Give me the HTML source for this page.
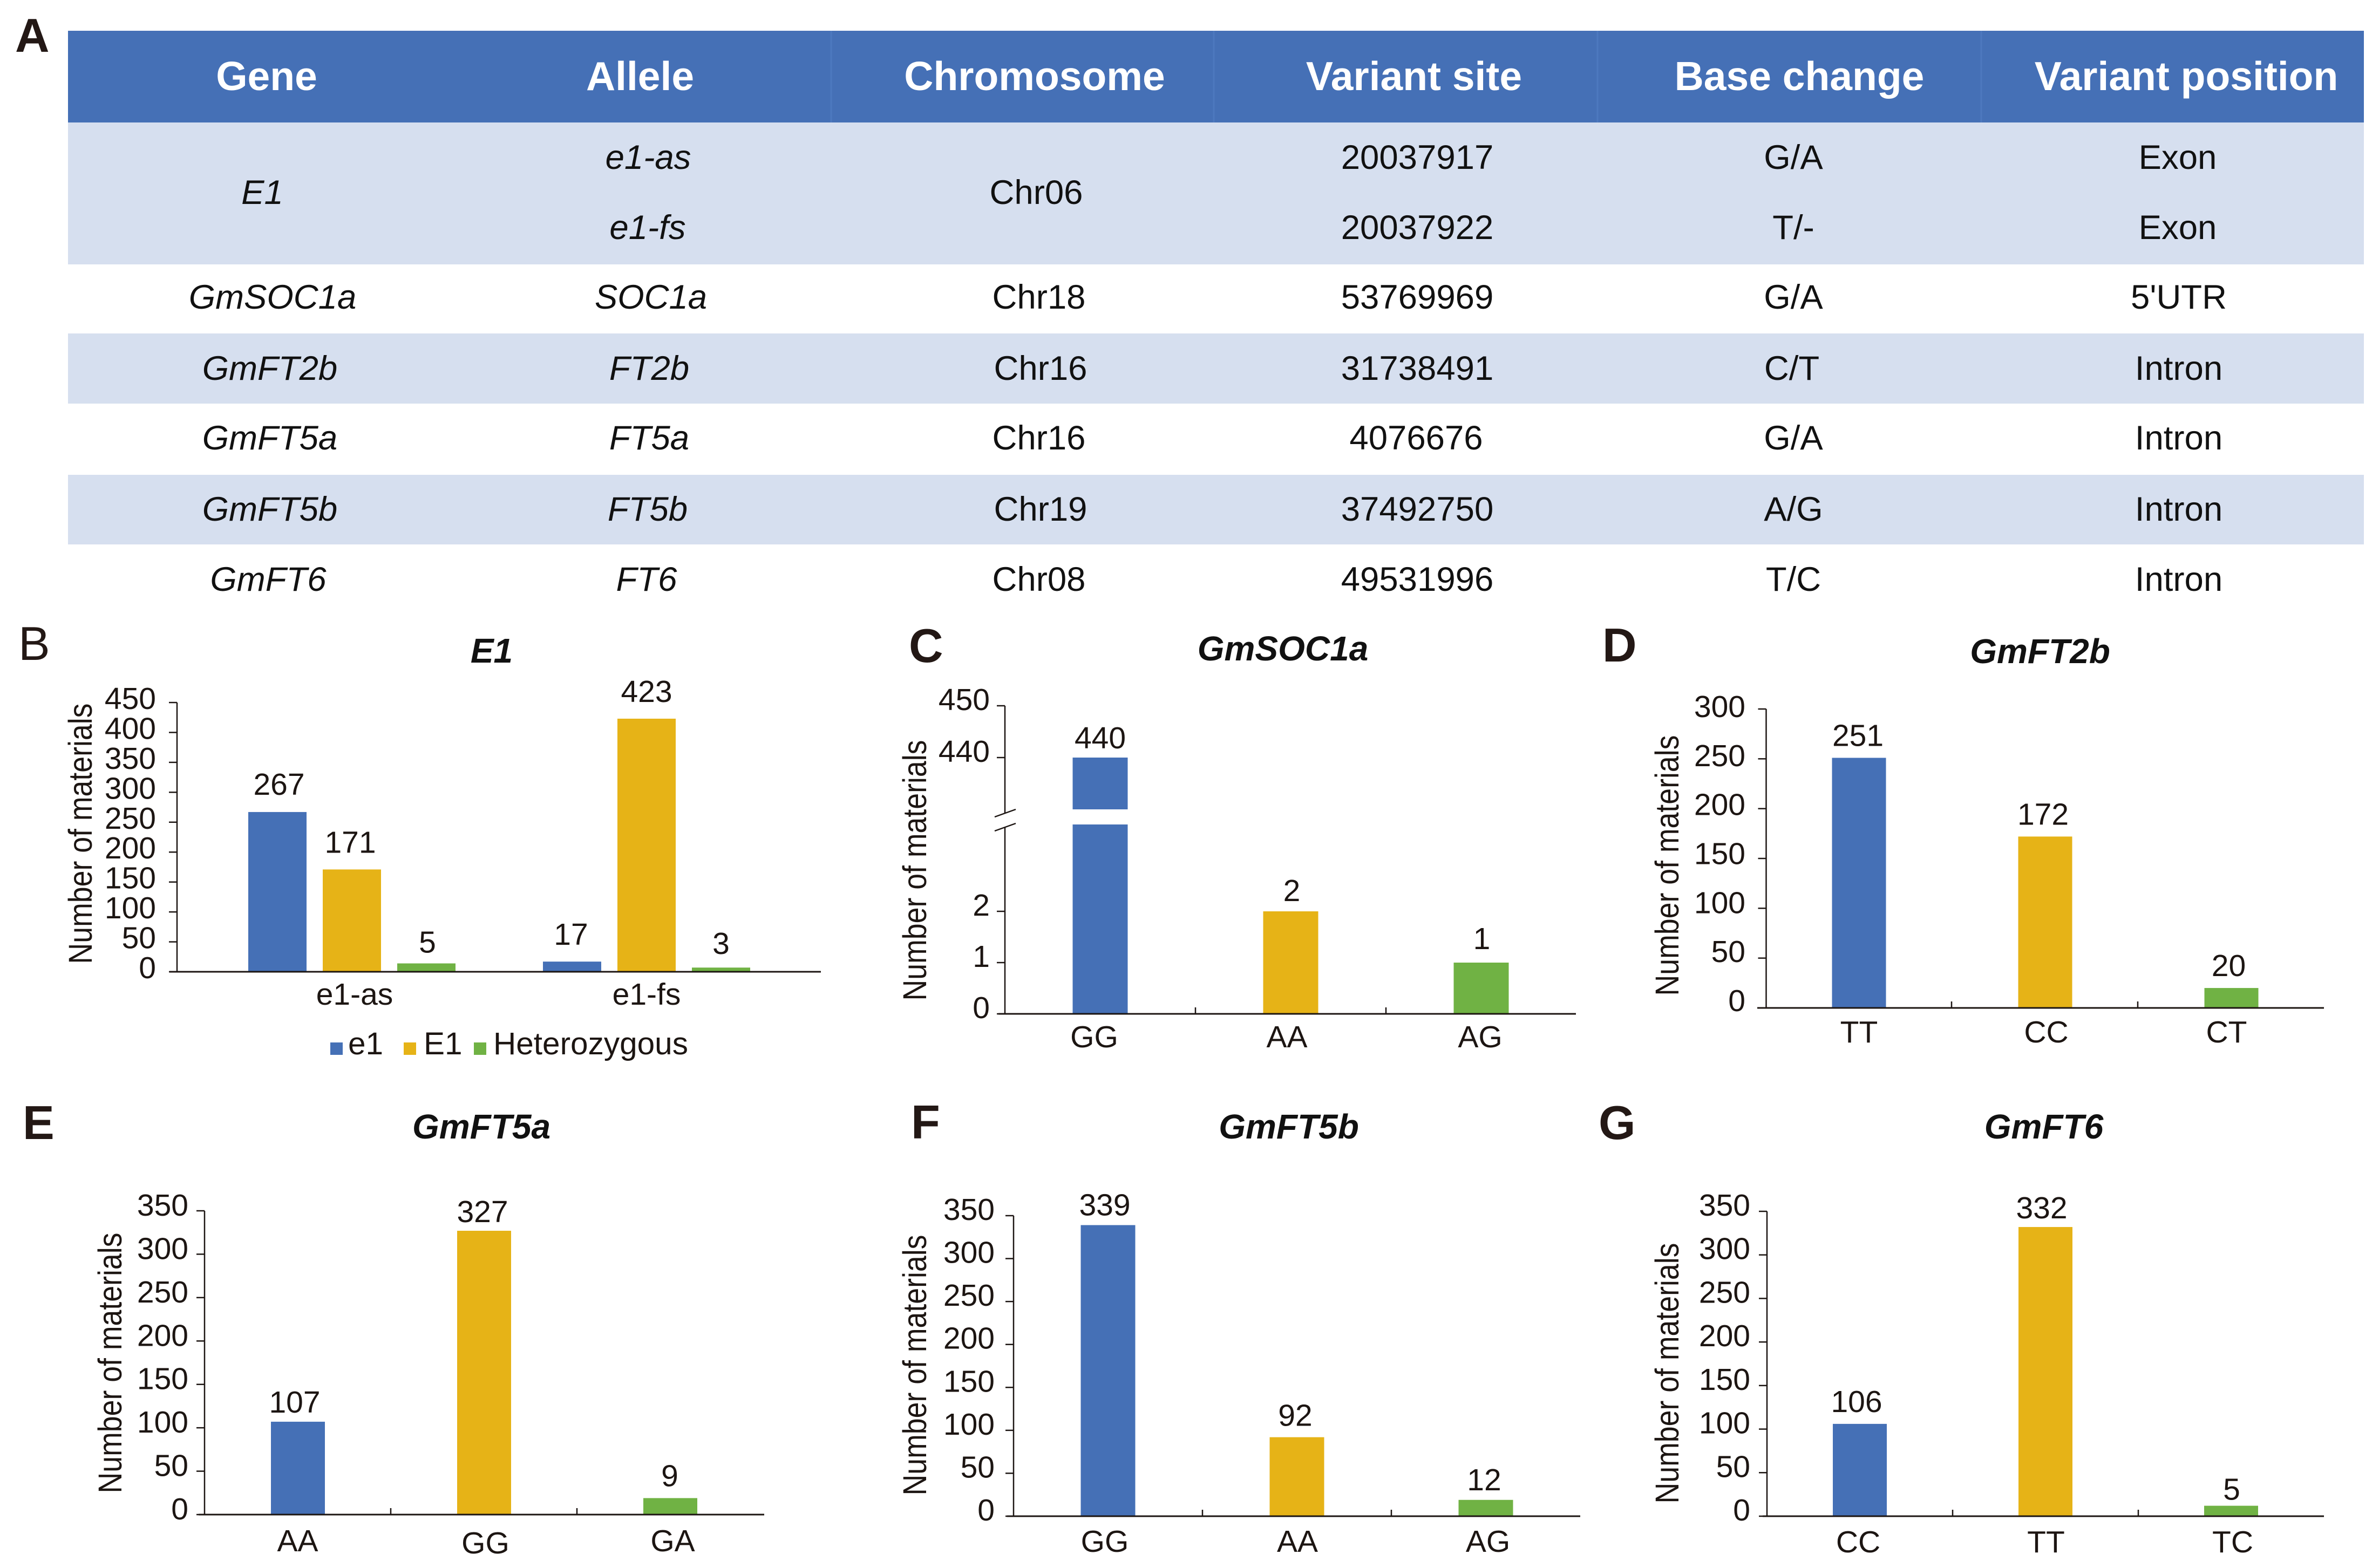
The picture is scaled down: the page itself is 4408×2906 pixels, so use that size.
<!DOCTYPE html>
<html lang="en">
<head>
<meta charset="utf-8">
<title>Allele variants and genotype counts</title>
<style>
html,body{margin:0;padding:0;background:#fff;}
svg{display:block;font-family:"Liberation Sans",Arial,sans-serif;}
.p{font-size:88px;fill:#231815;font-weight:bold;}
.h{font-size:75px;font-weight:bold;fill:#fff;text-anchor:middle;}
.c{font-size:63.5px;fill:#111;text-anchor:middle;}
.i{font-style:italic;}
.t{font-size:64px;font-weight:bold;font-style:italic;fill:#111;text-anchor:middle;}
</style>
</head>
<body>
<svg id="fig" xmlns="http://www.w3.org/2000/svg" width="4408" height="2906" viewBox="0 0 4408 2906">
<rect x="0" y="0" width="4408" height="2906" fill="#fff"/>

<g>
<rect x="126" y="57" width="4254" height="170" fill="#4570b6"/>
<rect x="126" y="227" width="4254" height="263" fill="#d6dfef"/>
<rect x="126" y="618" width="4254" height="130" fill="#d6dfef"/>
<rect x="126" y="880" width="4254" height="129" fill="#d6dfef"/>
<g stroke="#4d79bf" stroke-width="3">
<line x1="1540" y1="57" x2="1540" y2="227"/>
<line x1="2249" y1="57" x2="2249" y2="227"/>
<line x1="2960" y1="57" x2="2960" y2="227"/>
<line x1="3671" y1="57" x2="3671" y2="227"/>
</g>
<text class="h" x="494" y="167">Gene</text>
<text class="h" x="1186" y="167">Allele</text>
<text class="h" x="1917" y="167">Chromosome</text>
<text class="h" x="2620" y="167">Variant site</text>
<text class="h" x="3334" y="167">Base change</text>
<text class="h" x="4051" y="167">Variant position</text>

<text class="c i" x="486" y="378">E1</text>
<text class="c i" x="1201" y="313">e1-as</text>
<text class="c i" x="1200" y="443">e1-fs</text>
<text class="c" x="1920" y="378">Chr06</text>
<text class="c" x="2626" y="313">20037917</text>
<text class="c" x="2626" y="443">20037922</text>
<text class="c" x="3323" y="313">G/A</text>
<text class="c" x="3323" y="443">T/-</text>
<text class="c" x="4035" y="313">Exon</text>
<text class="c" x="4035" y="443">Exon</text>

<text class="c i" x="505" y="572">GmSOC1a</text>
<text class="c i" x="1206" y="572">SOC1a</text>
<text class="c" x="1925" y="572">Chr18</text>
<text class="c" x="2626" y="572">53769969</text>
<text class="c" x="3323" y="572">G/A</text>
<text class="c" x="4037" y="572">5'UTR</text>

<text class="c i" x="500" y="704">GmFT2b</text>
<text class="c i" x="1203" y="704">FT2b</text>
<text class="c" x="1928" y="704">Chr16</text>
<text class="c" x="2626" y="704">31738491</text>
<text class="c" x="3320" y="704">C/T</text>
<text class="c" x="4037" y="704">Intron</text>

<text class="c i" x="500" y="833">GmFT5a</text>
<text class="c i" x="1203" y="833">FT5a</text>
<text class="c" x="1925" y="833">Chr16</text>
<text class="c" x="2624" y="833">4076676</text>
<text class="c" x="3323" y="833">G/A</text>
<text class="c" x="4037" y="833">Intron</text>

<text class="c i" x="500" y="965">GmFT5b</text>
<text class="c i" x="1200" y="965">FT5b</text>
<text class="c" x="1928" y="965">Chr19</text>
<text class="c" x="2626" y="965">37492750</text>
<text class="c" x="3323" y="965">A/G</text>
<text class="c" x="4037" y="965">Intron</text>

<text class="c i" x="497" y="1095">GmFT6</text>
<text class="c i" x="1198" y="1095">FT6</text>
<text class="c" x="1925" y="1095">Chr08</text>
<text class="c" x="2626" y="1095">49531996</text>
<text class="c" x="3323" y="1095">T/C</text>
<text class="c" x="4037" y="1095">Intron</text>
</g>

<text class="p" x="28" y="96">A</text>
<text class="p" x="34" y="1223" style="font-weight:normal">B</text>
<text class="p" x="1684" y="1227">C</text>
<text class="p" x="2969" y="1226">D</text>
<text class="p" x="42" y="2111">E</text>
<text class="p" x="1688" y="2110">F</text>
<text class="p" x="2962" y="2111">G</text>

<text class="t" x="911" y="1228">E1</text>
<text class="t" x="2377" y="1224">GmSOC1a</text>
<text class="t" x="3780" y="1229">GmFT2b</text>
<text class="t" x="892" y="2110">GmFT5a</text>
<text class="t" x="2388" y="2110">GmFT5b</text>
<text class="t" x="3787" y="2110">GmFT6</text>

<g id="charts"></g>
</svg>

<script>
/* ---------- chart data ---------- */
const e1Categories = ['e1-as', 'e1-fs'];
const e1Series = ['e1', 'E1', 'Heterozygous'];
const e1SeriesValues = [[267, 17], [171, 423], [14, 7]];
const e1Printed = [['267', '17'], ['171', '423'], ['5', '3']];
const e1Ticks = [0, 50, 100, 150, 200, 250, 300, 350, 400, 450];

const soc1aCategories = ['GG', 'AA', 'AG'];
const soc1aValues = [440, 2, 1];
const soc1aPrinted = ['440', '2', '1'];
const soc1aTicks = [0, 1, 2, 440, 450];

const ft2bCategories = ['TT', 'CC', 'CT'];
const ft2bValues = [251, 172, 20];
const ft2bPrinted = ['251', '172', '20'];
const ft2bTicks = [0, 50, 100, 150, 200, 250, 300];

const ft5aCategories = ['AA', 'GG', 'GA'];
const ft5aValues = [107, 327, 19];
const ft5aPrinted = ['107', '327', '9'];
const ft5aTicks = [0, 50, 100, 150, 200, 250, 300, 350];

const ft5bCategories = ['GG', 'AA', 'AG'];
const ft5bValues = [339, 92, 19];
const ft5bPrinted = ['339', '92', '12'];
const ft5bTicks = [0, 50, 100, 150, 200, 250, 300, 350];

const ft6Categories = ['CC', 'TT', 'TC'];
const ft6Values = [106, 332, 12];
const ft6Printed = ['106', '332', '5'];
const ft6Ticks = [0, 50, 100, 150, 200, 250, 300, 350];

const axisTitleText = 'Number of materials';

/* ---------- drawing ---------- */
const BLUE = '#4570b6', GOLD = '#e6b317', GREEN = '#70b244', INK = '#1c1512';
const COLORS = [BLUE, GOLD, GREEN];
const root = document.getElementById('charts');
const NS = 'http://www.w3.org/2000/svg';

function make(tag, attrs, parent) {
  const el = document.createElementNS(NS, tag);
  for (const k in attrs) el.setAttribute(k, attrs[k]);
  parent.appendChild(el);
  return el;
}

function linearY(L) {
  const unit = (L.base - L.top) / L.max;
  return v => L.base - v * unit;
}

function brokenY(L) {
  return v => v > L.upperMin
    ? L.upperBottomY - (v - L.upperMin) * L.upperUnit
    : L.base - v * L.lowerUnit;
}

function drawAxes(g, L, ticks, categories, y) {
  const axis = make('line', {x1: L.lineStart, x2: L.lineEnd, y1: L.base, y2: L.base, stroke: INK, 'stroke-width': 3}, g);
  
  
  const topValue = ticks[ticks.length - 1];
  const segments = L.broken ? [[y(topValue), L.upperAxisEnd], [L.lowerAxisStart, L.base]] : [[y(topValue), L.base]];
  segments.forEach(s => {
    const seg = make('line', {x1: L.x0, x2: L.x0, y1: s[0], y2: s[1], stroke: INK, 'stroke-width': 2.5}, g);
    
    
  });
  if (L.broken) {
    [L.upperAxisEnd, L.lowerAxisStart].forEach(b => {
      const slash = make('line', {x1: L.x0 - 19, x2: L.x0 + 20, y1: b + 7, y2: b - 7, stroke: INK, 'stroke-width': 2.5}, g);
      
      
    });
  }
  ticks.forEach(t => {
    const ty = y(t);
    const drift = L.tickDyTop === undefined ? 0 : (L.tickDyTop - L.tickDy) * (t / topValue);
    const tick = make('line', {x1: L.x0 - 15, x2: L.x0, y1: ty, y2: ty, stroke: INK, 'stroke-width': 2.5}, g);
    
    
    const lab = make('text', {x: L.tickRight, y: ty + L.tickDy + drift, 'text-anchor': 'end', 'font-size': 57, fill: INK}, g);
    lab.textContent = t;
    
    
  });
  if (L.catTicks) {
    for (let k = 1; k < categories.length; k++) {
      const cx = L.catStart + L.step * k;
      const ct = make('line', {x1: cx, x2: cx, y1: L.base - 12, y2: L.base, stroke: INK, 'stroke-width': 2.5}, g);
      
      
    }
  }
  categories.forEach((c, i) => {
    const lab = make('text', {x: L.catStart + L.step * (i + 0.5) + L.catDx[i], y: L.catY + L.catDy[i], 'text-anchor': 'middle', 'font-size': 57, fill: INK}, g);
    lab.textContent = c;
    
    
  });
  const title = make('text', {
    transform: 'translate(' + L.titleX + ',' + L.titleY + ') rotate(-90)',
    'text-anchor': 'middle', 'font-size': 61, textLength: 483, lengthAdjust: 'spacingAndGlyphs', fill: INK
  }, g);
  title.textContent = axisTitleText;
  
  
}

function drawBar(g, L, y, cx, w, v, color) {
  if (L.broken && v > L.upperMin) {
    const lower = make('rect', {x: cx - w / 2, y: L.lowerTopY, width: w, height: L.base - L.lowerTopY, fill: color}, g);
    
    
    const upper = make('rect', {x: cx - w / 2, y: y(v), width: w, height: L.upperBottomY - y(v), fill: color}, g);
    
    
  } else {
    const bar = make('rect', {x: cx - w / 2, y: y(v), width: w, height: L.base - y(v), fill: color}, g);
    
    
  }
}

function drawValueLabel(g, x, yPos, text) {
  const lab = make('text', {x: x, y: yPos, 'text-anchor': 'middle', 'font-size': 57, fill: INK}, g);
  lab.textContent = text;
  
  
}

function singleSeries(name, categories, values, printed, ticks, L) {
  const g = make('g', {}, root);
  
  
  const y = L.broken ? brokenY(L) : linearY(L);
  values.forEach((v, i) => {
    const cx = L.catStart + L.step * (i + 0.5) + L.barDx;
    drawBar(g, L, y, cx, L.barW, v, COLORS[i]);
    drawValueLabel(g, cx + L.labelDx[i], y(v) - L.labelGap[i], printed[i]);
  });
  drawAxes(g, L, ticks, categories, y);
}

function groupedChart(name, categories, seriesNames, seriesValues, printed, ticks, L) {
  const g = make('g', {}, root);
  
  
  const y = linearY(L);
  seriesValues.forEach((vals, j) => {
    vals.forEach((v, i) => {
      const cx = L.catStart + L.step * (i + 0.5) + (j - (seriesValues.length - 1) / 2) * L.barStep;
      drawBar(g, L, y, cx, L.barW, v, COLORS[j]);
      drawValueLabel(g, cx + L.labelDx[j][i], y(v) - L.labelGap[j][i], printed[j][i]);
    });
  });
  drawAxes(g, L, ticks, categories, y);
  seriesNames.forEach((s, j) => {
    const sw = make('rect', {x: L.legendSwatchX[j], y: L.legendY - 22, width: 23, height: 23, fill: COLORS[j]}, g);
    
    
    const t = make('text', {x: L.legendTextX[j], y: L.legendY, 'font-size': 58.5, fill: INK}, g);
    t.textContent = s;
    
    
  });
}

groupedChart('chart-e1', e1Categories, e1Series, e1SeriesValues, e1Printed, e1Ticks, {
  x0: 328, base: 1801, top: 1302, max: 450, lineStart: 314, lineEnd: 1521,
  catStart: 379, step: 546, barW: 108, barStep: 138, tickRight: 289, tickDy: 12,
  catTicks: false, catDx: [5, 0], catDy: [0, 0], catY: 1862,
  labelDx: [[3, -2], [-3, 0], [2, 0]], labelGap: [[32, 31], [31, 31], [20, 25]],
  titleX: 170, titleY: 1545,
  legendY: 1954, legendSwatchX: [612, 748, 878], legendTextX: [645, 785, 914]
});

singleSeries('chart-gmsoc1a', soc1aCategories, soc1aValues, soc1aPrinted, soc1aTicks, {
  broken: true, x0: 1862, base: 1879, lowerUnit: 95, lowerTopY: 1528, lowerAxisStart: 1533,
  upperMin: 430, upperBottomY: 1500, upperUnit: 9.6, upperAxisEnd: 1507,
  lineStart: 1850, lineEnd: 2920, catStart: 1862, step: 353, barW: 102, barDx: 0,
  tickRight: 1834, tickDy: 8, catTicks: true, catDx: [-11, -7, -2], catDy: [0, 0, 0], catY: 1941,
  labelDx: [0, 2, 1], labelGap: [17, 19, 25], titleX: 1716, titleY: 1613
});

singleSeries('chart-gmft2b', ft2bCategories, ft2bValues, ft2bPrinted, ft2bTicks, {
  x0: 3272.5, base: 1868, top: 1314, max: 300, lineStart: 3256, lineEnd: 4306,
  catStart: 3271, step: 345, barW: 100, barDx: 1,
  tickRight: 3234, tickDy: 6, tickDyTop: 15, catTicks: true, catDx: [1, 3, -8], catDy: [0, 0, 0], catY: 1932,
  labelDx: [-2, -4, -5], labelGap: [22, 22, 22], titleX: 3110, titleY: 1604
});

singleSeries('chart-gmft5a', ft5aCategories, ft5aValues, ft5aPrinted, ft5aTicks, {
  x0: 379, base: 2807, top: 2244, max: 350, lineStart: 368, lineEnd: 1416,
  catStart: 379, step: 345, barW: 100, barDx: 0.5,
  tickRight: 349, tickDy: 9, catTicks: true, catDx: [0, 3, 5], catDy: [0, 4, 0], catY: 2875,
  labelDx: [-6, -3, -1], labelGap: [17, 16, 22], titleX: 225, titleY: 2526
});

singleSeries('chart-gmft5b', ft5bCategories, ft5bValues, ft5bPrinted, ft5bTicks, {
  x0: 1878, base: 2810, top: 2253, max: 350, lineStart: 1866, lineEnd: 2928,
  catStart: 1878, step: 350, barW: 101, barDx: 0,
  tickRight: 1843, tickDy: 8, catTicks: true, catDx: [-6, 1, 4], catDy: [0, 0, 0], catY: 2876,
  labelDx: [-6, -3, -3], labelGap: [18, 21, 18], titleX: 1716, titleY: 2530
});

singleSeries('chart-gmft6', ft6Categories, ft6Values, ft6Printed, ft6Ticks, {
  x0: 3274, base: 2810, top: 2245, max: 350, lineStart: 3266, lineEnd: 4306,
  catStart: 3274, step: 344, barW: 100, barDx: 0,
  tickRight: 3243, tickDy: 8, catTicks: true, catDx: [-3, 1, 3], catDy: [0, 0, 0], catY: 2877,
  labelDx: [-6, -7, 1], labelGap: [22, 16, 11], titleX: 3110, titleY: 2545
});
</script>
</body>
</html>
